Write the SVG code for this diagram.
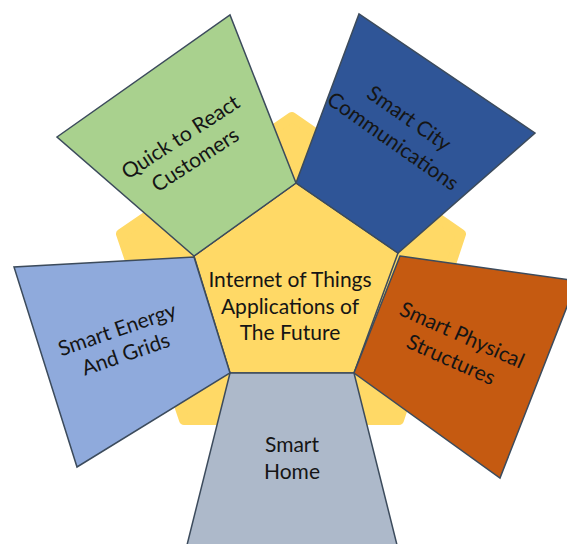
<svg xmlns="http://www.w3.org/2000/svg" width="567" height="544" viewBox="0 0 567 544">
<style>
.shape{stroke:#3c4b5c;stroke-width:1.5;stroke-linejoin:miter}
.lbl{font-family:Lato,"Open Sans","Liberation Sans",sans-serif;font-size:21px;fill:#151515;text-anchor:middle}
</style>
<rect width="567" height="544" fill="#ffffff"/>
<g id="background">
<polygon points="292,117 461,234 399,420 184,420 121,234" fill="#FFD966" stroke="#FFD966" stroke-width="10" stroke-linejoin="round"/>
</g>
<g id="center">
<polygon class="shape" points="194,256 296,183 398,253 354,373 230,373" fill="#FFD966"/>
<text class="lbl" x="290" y="287">Internet of Things</text>
<text class="lbl" x="290" y="314">Applications of</text>
<text class="lbl" x="290" y="340">The Future</text>
</g>
<g id="quick-to-react-customers">
<polygon class="shape" points="194,256 57,137 230,15 296,183" fill="#A9D18E"/>
<g transform="translate(188,148.5) rotate(-33)">
<text class="lbl" x="0" y="-6.5">Quick to React</text>
<text class="lbl" x="0" y="20.5">Customers</text>
</g>
</g>
<g id="smart-city-communications">
<polygon class="shape" points="296,183 359,14 535,133 398,253" fill="#2F5597"/>
<g transform="translate(401,130) rotate(35)">
<text class="lbl" x="0" y="-7">Smart City</text>
<text class="lbl" x="0" y="21">Communications</text>
</g>
</g>
<g id="smart-physical-structures">
<polygon class="shape" points="400,256 577,281 500,478 354,373" fill="#C55A11"/>
<g transform="translate(456.5,347.5) rotate(24)">
<text class="lbl" x="0" y="-6.5">Smart Physical</text>
<text class="lbl" x="0" y="20.5">Structures</text>
</g>
</g>
<g id="smart-home">
<polygon class="shape" points="230,373 354,373 398,549 186,549" fill="#ADB9CA"/>
<text class="lbl" x="292" y="452">Smart</text>
<text class="lbl" x="292" y="479">Home</text>
</g>
<g id="smart-energy-and-grids">
<polygon class="shape" points="194,257 230,373 77,467 14,267" fill="#8FAADC"/>
<g transform="translate(121.5,342) rotate(-19)">
<text class="lbl" x="0" y="-6">Smart Energy</text>
<text class="lbl" x="0" y="20">And Grids</text>
</g>
</g>
</svg>
